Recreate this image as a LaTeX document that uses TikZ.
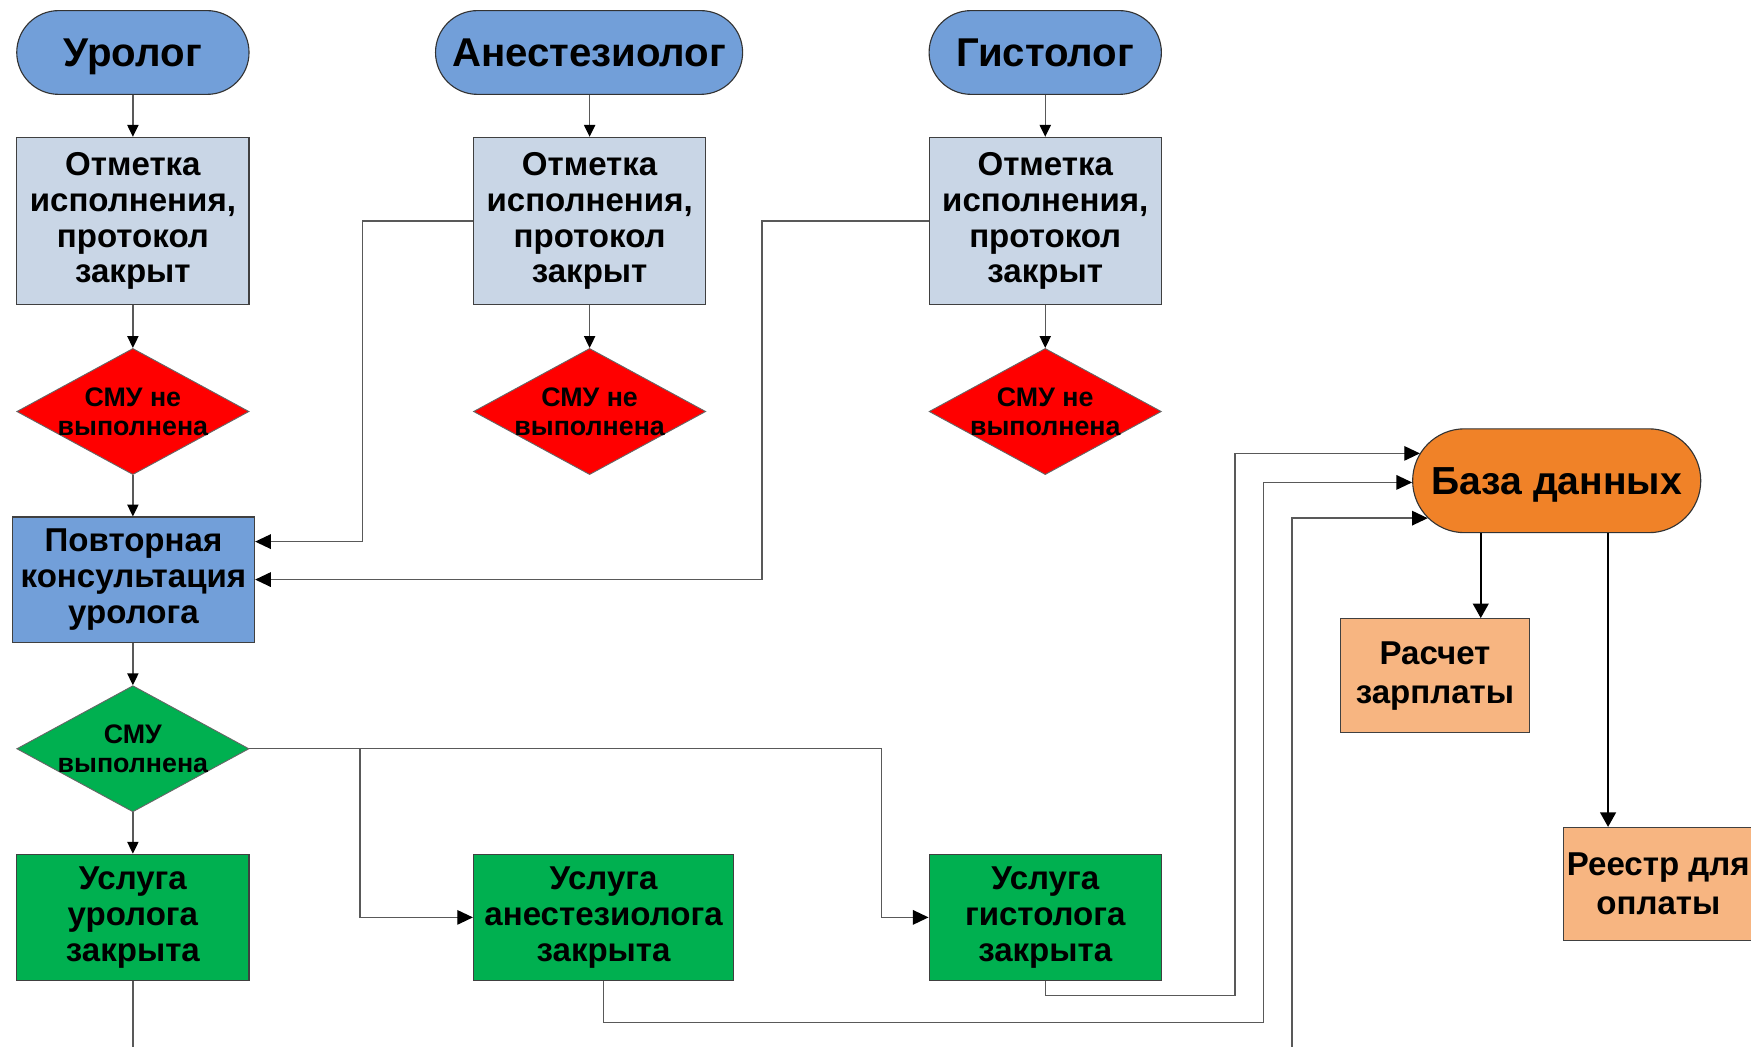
\documentclass[tikz,border=0pt]{standalone}
\usepackage{fontspec}
\setmainfont{Liberation Sans}
\usetikzlibrary{shapes.geometric,arrows.meta,calc}
\definecolor{termblue}{RGB}{114,159,217}
\definecolor{boxgrey}{RGB}{201,214,230}
\definecolor{dgreen}{RGB}{0,176,80}
\definecolor{dborange}{RGB}{240,130,40}
\definecolor{lorange}{RGB}{247,181,129}
\begin{document}
\begin{tikzpicture}[x=0.5pt,y=-0.5pt,
  term/.style={rectangle, rounded corners=18.75pt, draw=black!80, line width=0.5pt, fill=termblue,
    font=\bfseries\fontsize{18}{20}\selectfont, minimum height=37.5pt, inner sep=0pt,
    text height=12.9pt, text depth=0pt},
  box/.style={rectangle, draw=black!75, line width=0.5pt, align=center, inner sep=0pt,
    font=\bfseries\fontsize{14.8}{16}\selectfont},
  dia/.style={diamond, draw=black!60, line width=0.4pt, minimum width=104pt, minimum height=56.5pt, inner sep=0pt},
  dialbl/.style={font=\bfseries\fontsize{12}{13}\selectfont, align=center, inner sep=0pt},
  conn/.style={draw=black!65, line width=0.6pt, -{Triangle[length=5.3pt,width=5pt,color=black]}},
  connbig/.style={draw=black!65, line width=0.6pt, -{Triangle[length=7pt,width=6.5pt,color=black]}},
  plain/.style={draw=black!65, line width=0.6pt},
  dbarrow/.style={draw=black, line width=1pt, -{Triangle[length=6.5pt,width=7pt]}}
]
\useasboundingbox (0,0) rectangle (1568,937);

% top terminals
\node[term, minimum width=104pt] (uro) at (119,47) {Уролог};
\node[term, minimum width=137.5pt] (ane) at (527.5,47) {Анестезиолог};
\node[term, minimum width=104pt] (gis) at (936,47) {Гистолог};

% marks
\node[box, fill=boxgrey, minimum width=104pt, minimum height=75pt] (m1) at (119,198) {Отметка\\исполнения,\\протокол\\закрыт};
\node[box, fill=boxgrey, minimum width=104pt, minimum height=75pt] (m2) at (528,198) {Отметка\\исполнения,\\протокол\\закрыт};
\node[box, fill=boxgrey, minimum width=104pt, minimum height=75pt] (m3) at (936,198) {Отметка\\исполнения,\\протокол\\закрыт};

% red diamonds
\node[dia, fill=red, label={[dialbl]center:{СМУ не\\выполнена}}] (d1) at (119,368.5) {};
\node[dia, fill=red, label={[dialbl]center:{СМУ не\\выполнена}}] (d2) at (528,368.5) {};
\node[dia, fill=red, label={[dialbl]center:{СМУ не\\выполнена}}] (d3) at (936,368.5) {};

% repeat consultation
\node[box, fill=termblue, minimum width=108.5pt, minimum height=56pt] (pov) at (119.5,519) {Повторная\\консультация\\уролога};

% green diamond
\node[dia, fill=dgreen, label={[dialbl]center:{СМУ\\выполнена}}] (gd) at (119,670.5) {};

% green boxes
\node[box, fill=dgreen, minimum width=104pt, minimum height=56.5pt] (s1) at (119,821.5) {Услуга\\уролога\\закрыта};
\node[box, fill=dgreen, minimum width=116.5pt, minimum height=56.5pt] (s2) at (540.5,821.5) {Услуга\\анестезиолога\\закрыта};
\node[box, fill=dgreen, minimum width=104pt, minimum height=56.5pt] (s3) at (936,821.5) {Услуга\\гистолога\\закрыта};

% database
\node[term, fill=dborange, rounded corners=23.25pt, minimum width=129pt, minimum height=46.5pt,
  font=\bfseries\fontsize{17.5}{20}\selectfont, text height=12.5pt] (db) at (1394,430.5) {База данных};
\node[box, fill=lorange, minimum width=85pt, minimum height=51pt,
  font=\bfseries\fontsize{14.8}{17.5}\selectfont] (rz) at (1285,605) {Расчет\\зарплаты};
\node[box, fill=lorange, minimum width=85pt, minimum height=50.5pt,
  font=\bfseries\fontsize{14.8}{17.5}\selectfont] (rr) at (1485,791.5) {Реестр для\\оплаты};

\coordinate (o1) at (119,945);
\coordinate (in3) at (1157,945);

% vertical flow
\draw[conn] (uro) -- (m1);
\draw[conn] (ane.south -| m2.north) -- (m2.north);
\draw[conn] (gis) -- (m3);
\draw[conn] (m1) -- (d1);
\draw[conn] (m2) -- (d2);
\draw[conn] (m3) -- (d3);
\draw[conn] (d1) -- (pov.north -| d1.south);
\draw[conn] (pov.south -| gd.north) -- (gd);
\draw[conn] (gd) -- (s1);
\draw[plain] (s1.south) -- (o1);

% back to repeat consultation
\draw[connbig] (m2.west) -- ++(-99,0) |- ([yshift=17pt]pov.east);
\draw[connbig] (m3.west) -- ++(-149,0) |- (pov.east);

% green diamond branches
\draw[connbig] (gd.east) -- ([xshift=-21pt]s3.west |- gd.east) -- ([xshift=-21pt]s3.west) -- (s3.west);
\draw[connbig] ([xshift=-50.5pt]s2.west |- gd.east) -- ([xshift=-50.5pt]s2.west) -- (s2.west);

% to database
\draw[connbig] (s3.south) -- ++(0,13) -- ++(170,0) |- ([xshift=3.5pt,yshift=12.25pt]db.west);
\draw[connbig] (s2.south) -- ++(0,37) -- ++(591,0) |- ([yshift=-0.75pt]db.west);
\draw[connbig] (in3) |- ([xshift=7pt,yshift=-16.75pt]db.west);

% from database
\draw[dbarrow] ([xshift=20.5pt]rz.north |- db.south) -- ([xshift=20.5pt]rz.north);
\draw[dbarrow] ([xshift=-22.5pt]rr.north |- db.south) -- ([xshift=-22.5pt]rr.north);
\end{tikzpicture}
\end{document}
